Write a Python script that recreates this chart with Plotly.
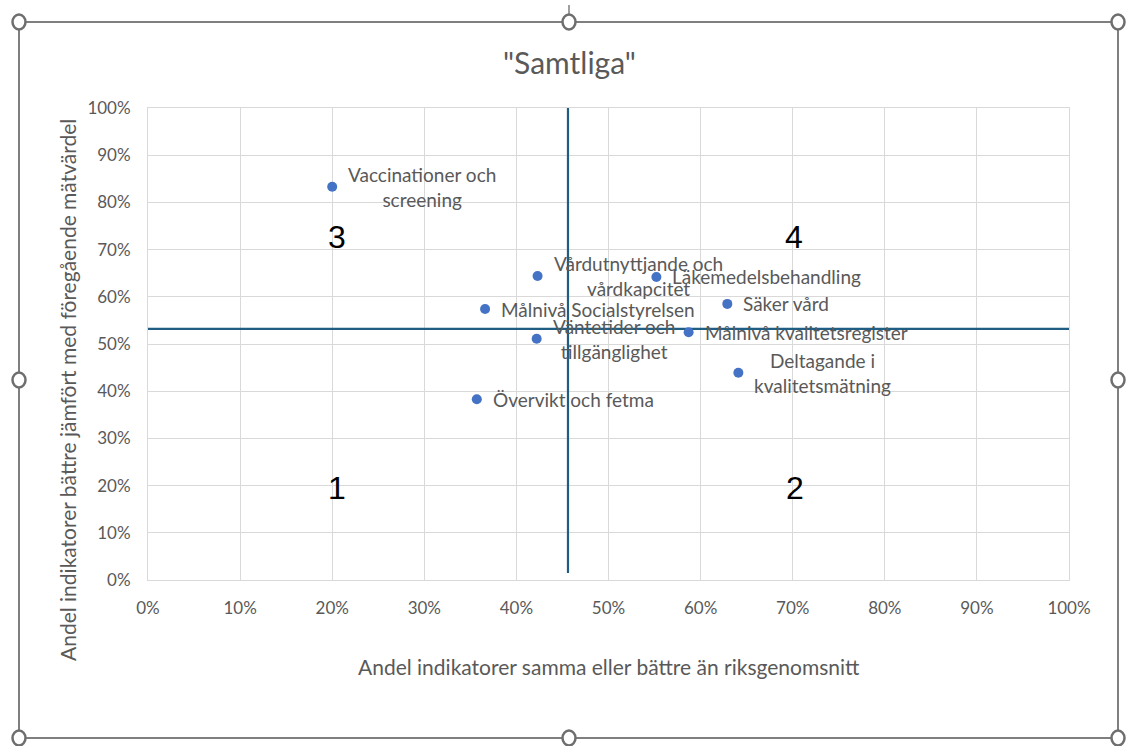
import plotly.graph_objects as go

# ---- data ----
labels = [
    "Vaccinationer och<br>screening",
    "Vårdutnyttjande och<br>vårdkapcitet",
    "Läkemedelsbehandling",
    "Målnivå Socialstyrelsen",
    "Säker vård",
    "Väntetider och<br>tillgänglighet",
    "Målnivå kvalitetsregister",
    "Deltagande i<br>kvalitetsmätning",
    "Övervikt och fetma",
]
x_vals = [0.200, 0.423, 0.552, 0.366, 0.629, 0.422, 0.587, 0.641, 0.357]
y_vals = [0.833, 0.644, 0.642, 0.574, 0.585, 0.511, 0.525, 0.439, 0.383]

mean_x = 0.456
mean_y = 0.532
vline_y = [0.015, 1.0]
hline_x = [0.0, 1.0]

quad_text = ["1", "2", "3", "4"]
quad_x = [0.205, 0.702, 0.205, 0.701]
quad_y = [0.195, 0.195, 0.727, 0.727]

tick_vals = [i / 10 for i in range(11)]

title_text = '"Samtliga"'
x_title = "Andel indikatorer samma eller bättre än riksgenomsnitt"
y_title = "Andel indikatorer bättre jämfört med föregående mätvärdel"

# ---- layout geometry (pixels) ----
W, H = 1136, 746
L, R, T, B = 148, 1069, 108, 580


def px(xp):
    return (xp - L) / (R - L)


def py(yp):
    return (B - yp) / (B - T)


FONT = "Lato"
GREY = "#595959"
LINE = "#1F5E82"

fig = go.Figure()

fig.add_trace(go.Scatter(
    x=[mean_x, mean_x], y=vline_y, mode="lines",
    line=dict(color=LINE, width=2.2), hoverinfo="skip", showlegend=False,
))
fig.add_trace(go.Scatter(
    x=hline_x, y=[mean_y, mean_y], mode="lines",
    line=dict(color=LINE, width=2.2), hoverinfo="skip", showlegend=False,
))
fig.add_trace(go.Scatter(
    x=x_vals, y=y_vals, mode="markers",
    marker=dict(color="#4472C4", size=10),
    text=labels, showlegend=False,
))

annotations = []
for lx, ly, lt in zip(x_vals, y_vals, labels):
    annotations.append(dict(
        x=lx, y=ly, xref="x", yref="y", text=lt, showarrow=False,
        xanchor="left", yanchor="middle", align="center", xshift=14,
        font=dict(family=FONT, size=19, color=GREY),
    ))
for qx, qy, qt in zip(quad_x, quad_y, quad_text):
    annotations.append(dict(
        x=qx, y=qy, xref="x", yref="y", text=qt, showarrow=False,
        xanchor="center", yanchor="middle",
        font=dict(family="Liberation Sans", size=32, color="#000000"),
    ))
annotations.append(dict(
    x=px(569), y=py(62), xref="paper", yref="paper", text=title_text,
    showarrow=False, xanchor="center", yanchor="middle",
    font=dict(family=FONT, size=30, color=GREY),
))
annotations.append(dict(
    x=px(609), y=py(666), xref="paper", yref="paper", text=x_title,
    showarrow=False, xanchor="center", yanchor="middle",
    font=dict(family=FONT, size=21, color=GREY),
))
annotations.append(dict(
    x=px(67), y=py(390), xref="paper", yref="paper", text=y_title,
    showarrow=False, xanchor="center", yanchor="middle", textangle=-90,
    font=dict(family=FONT, size=21, color=GREY),
))

# selection frame & handles (Excel chrome)
FR = "#7F7F7F"
shapes = [
    dict(type="rect", xref="paper", yref="paper",
         x0=px(19), x1=px(1118), y0=py(738), y1=py(22),
         line=dict(color=FR, width=2), fillcolor="rgba(0,0,0,0)", layer="below"),
    dict(type="line", xref="paper", yref="paper",
         x0=px(569), x1=px(569), y0=py(22), y1=py(5),
         line=dict(color=FR, width=1.5)),
]
for hx, hy in [(19, 22), (569, 22), (1118, 22), (19, 380), (1118, 380),
               (19, 738), (569, 738), (1118, 738)]:
    shapes.append(dict(
        type="circle", xref="paper", yref="paper",
        x0=px(hx - 6.5), x1=px(hx + 6.5), y0=py(hy + 7.5), y1=py(hy - 7.5),
        line=dict(color="#6E6E6E", width=2.5), fillcolor="white", layer="above",
    ))

axis_common = dict(
    range=[0, 1], tickvals=tick_vals, tickformat=".0%",
    showgrid=True, gridcolor="#D9D9D9", gridwidth=1,
    zeroline=False, showline=True, mirror=True, linecolor="#D9D9D9", linewidth=1,
    ticks="", tickfont=dict(family=FONT, size=17, color=GREY),
    ticklabelstandoff=13, fixedrange=True,
)

fig.update_layout(
    width=W, height=H,
    margin=dict(l=L, r=W - R, t=T, b=H - B),
    paper_bgcolor="white", plot_bgcolor="white",
    xaxis=dict(**axis_common),
    yaxis=dict(**axis_common),
    annotations=annotations,
    shapes=shapes,
    showlegend=False,
)

fig.write_html("out.html", config={"displayModeBar": False},
               post_script="document.body.style.margin='0';")
